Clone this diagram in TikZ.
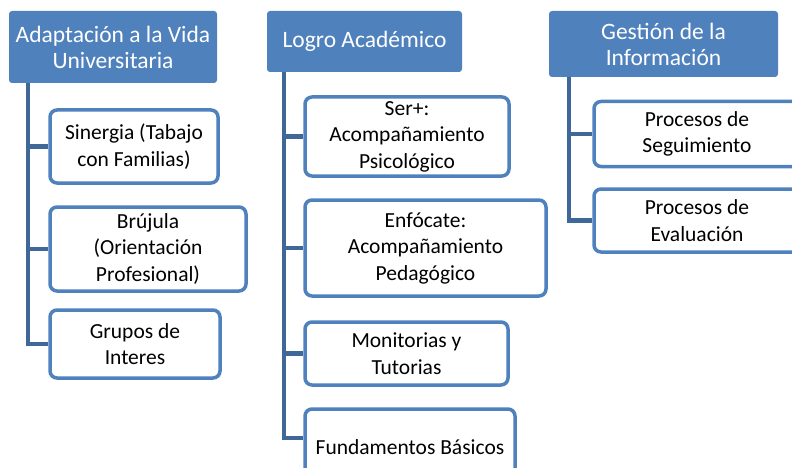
\documentclass[tikz,border=0pt]{standalone}
\usepackage{fontspec}
\setmainfont{Carlito}
\usetikzlibrary{backgrounds}
\definecolor{azul}{HTML}{4F81BD}
\definecolor{azulosc}{HTML}{3F6797}
\tikzset{
  titulo/.style={fill=azul, text=white, rounded corners=3pt, inner sep=0pt,
    align=center, font=\fontsize{23.5}{26}\selectfont},
  caja/.style={draw=azul, line width=3.5pt, fill=white, rounded corners=7pt,
    inner sep=0pt, align=center, font=\fontsize{21.5}{26.5}\selectfont},
  linea/.style={draw=azulosc, line width=4.5pt}
}
\begin{document}
\begin{tikzpicture}[x=1pt,y=-1pt]
  \useasboundingbox (0,0) rectangle (792,468);
  \clip (0,0) rectangle (792,468);
  %titulos
  \node[titulo, minimum width=208pt, minimum height=72pt] (adapt) at (113,47) {Adaptación a la Vida\\Universitaria};
  \node[titulo, minimum width=195pt, minimum height=61pt] (logro) at (364.5,41.5) {Logro Académico};
  \node[titulo, minimum width=229pt, minimum height=66pt] (gest) at (663.5,44) {Gestión de la\\Información};
  %cajas
  \node[caja, minimum width=168pt, minimum height=73pt] (siner) at (134,146.5) {Sinergia (Tabajo\\con Familias)};
  \node[caja, minimum width=196pt, minimum height=84pt] (bruj) at (148,249) {Brújula\\(Orientación\\Profesional)};
  \node[caja, minimum width=170pt, minimum height=68pt] (grup) at (135,344) {Grupos de\\Interes};
  \node[caja, minimum width=204pt, minimum height=79pt] (ser) at (407,136.5) {Ser+:\\Acompañamiento\\Psicológico};
  \node[caja, minimum width=241pt, minimum height=96pt] (enfo) at (425.5,248) {Enfócate:\\Acompañamiento\\Pedagógico};
  \node[caja, minimum width=203pt, minimum height=63pt] (moni) at (406.5,353.5) {Monitorias y\\Tutorias};
  \node[caja, minimum width=210pt, minimum height=76pt] (fund) at (410,447) {Fundamentos Básicos};
  \node[caja, minimum width=206pt, minimum height=65pt] (segu) at (697,134) {Procesos de\\Seguimiento};
  \node[caja, minimum width=206pt, minimum height=63pt] (eval) at (697,220.5) {Procesos de\\Evaluación};
  %lineas
  \begin{scope}[on background layer]
    \coordinate (tA) at ([xshift=19pt]adapt.south west);
    \coordinate (tB) at ([xshift=17pt]logro.south west);
    \coordinate (tC) at ([xshift=20pt]gest.south west);
    \draw[linea] (tA) |- (siner.west);
    \draw[linea] (tA) |- (bruj.west);
    \draw[linea] (tA) |- (grup.west);
    \draw[linea] (tB) |- (ser.west);
    \draw[linea] (tB) |- (enfo.west);
    \draw[linea] (tB) |- (moni.west);
    \draw[linea] (tB) |- ([yshift=9pt]fund.west);
    \draw[linea] (tC) |- (segu.west);
    \draw[linea] (tC) |- (eval.west);
  \end{scope}
\end{tikzpicture}
\end{document}
